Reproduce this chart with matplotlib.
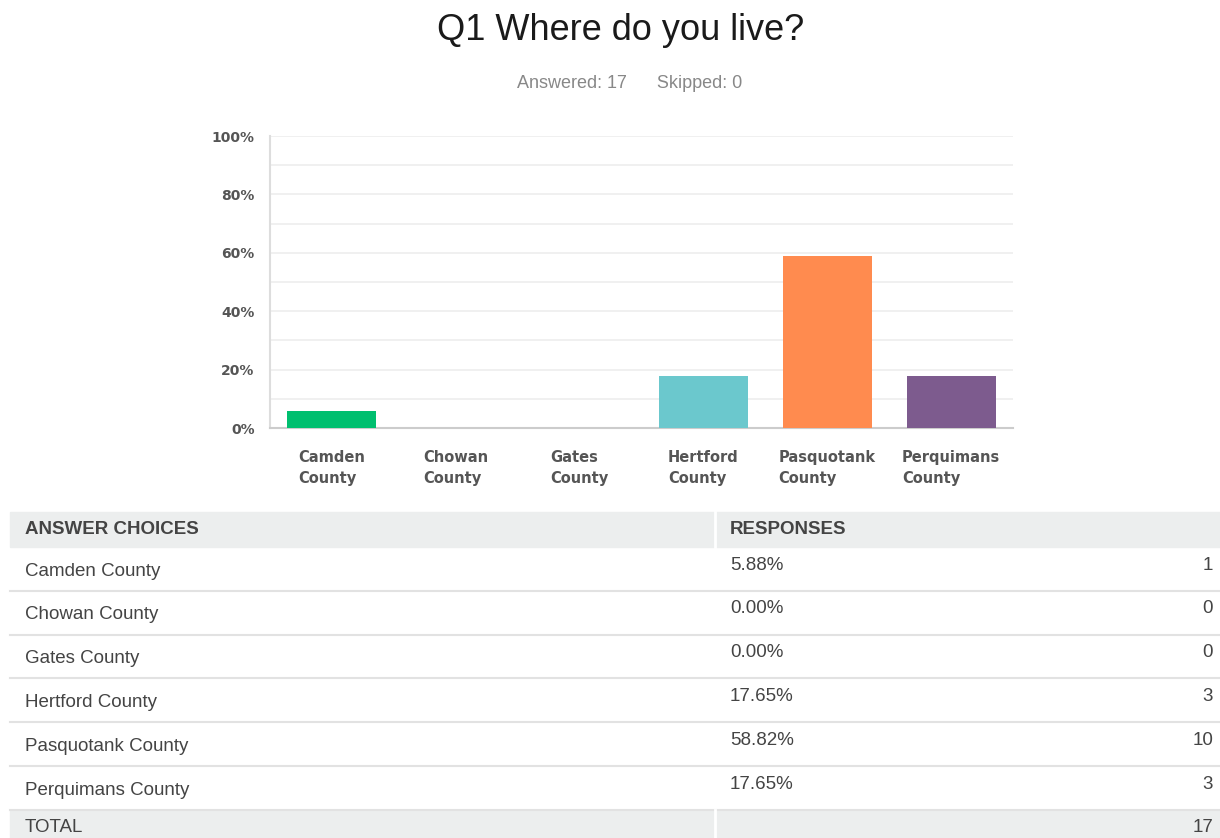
import matplotlib.pyplot as plt
from matplotlib.patches import Rectangle

counties = ["Camden County", "Chowan County", "Gates County",
            "Hertford County", "Pasquotank County", "Perquimans County"]
tick_labels = ["Camden\nCounty", "Chowan\nCounty", "Gates\nCounty",
               "Hertford\nCounty", "Pasquotank\nCounty", "Perquimans\nCounty"]
percents = [5.88, 0.00, 0.00, 17.65, 58.82, 17.65]
counts = [1, 0, 0, 3, 10, 3]
answered = 17
skipped = 0
colors = ["#00BF6F", "#507CB6", "#F9BE00", "#6BC8CD", "#FF8B4F", "#7D5B8E"]

W, H = 1220, 838
fig = plt.figure(figsize=(W / 100, H / 100), dpi=100)


def fx(px):
    return px / W


def fy(py):
    return 1 - py / H


fig.text(fx(621), fy(30), "Q1 Where do you live?", ha="center", va="center",
         fontsize=26, family="Liberation Sans", color="#1a1a1a")
fig.text(fx(630), fy(84), f"Answered: {answered}      Skipped: {skipped}",
         ha="center", va="center", fontsize=13, family="Liberation Sans",
         color="#888888")

# bar chart
ax = fig.add_axes([fx(270), fy(428), fx(1013) - fx(270), fy(136) - fy(428)])
x = range(len(counties))
ax.bar(x, percents, width=0.72, color=colors, zorder=3)
ax.set_xlim(-0.5, len(counties) - 0.5)
ax.set_ylim(0, 100)
ax.set_yticks(range(0, 101, 20))
ax.set_yticks(range(0, 101, 10), minor=True)
ax.set_yticklabels([f"{v}%" for v in range(0, 101, 20)])
ax.grid(axis="y", which="both", color="#EDEDED", linewidth=1.2, zorder=0)
ax.tick_params(axis="y", which="both", length=0, pad=11, labelsize=10,
               labelcolor="#555555")
for lbl in ax.get_yticklabels():
    lbl.set_fontweight("bold")
    lbl.set_family("DejaVu Sans")
ax.set_xticks(list(x))
ax.set_xticklabels(tick_labels, fontsize=10.5, fontweight="bold",
                   color="#555555", linespacing=1.45, multialignment="left",
                   va="top")
ax.tick_params(axis="x", length=0, pad=16)
for side in ["top", "right"]:
    ax.spines[side].set_visible(False)
ax.spines["left"].set_color("#DDDDDD")
ax.spines["bottom"].set_color("#CCCCCC")
ax.spines["left"].set_linewidth(1.5)
ax.spines["bottom"].set_linewidth(1.5)

# summary table
tfont = dict(family="Liberation Sans", color="#444444")
left, mid, right = 10, 715, 1220
head_top, head_bot = 512, 547
row_h = 43.8
fig.patches.append(Rectangle((fx(left), fy(head_bot)), fx(right) - fx(left),
                             fy(head_top) - fy(head_bot), color="#ECEEEE",
                             transform=fig.transFigure, zorder=0))
fig.add_artist(plt.Line2D([fx(mid), fx(mid)], [fy(head_bot), fy(head_top)],
                          color="white", linewidth=2, transform=fig.transFigure))
fig.text(fx(25), fy(529), "ANSWER CHOICES", fontsize=13.5, fontweight="bold",
         va="center", **tfont)
fig.text(fx(730), fy(529), "RESPONSES", fontsize=13.5, fontweight="bold",
         va="center", **tfont)

for i, (name, pct, n) in enumerate(zip(counties, percents, counts)):
    top = head_bot + i * row_h
    bot = top + row_h
    fig.text(fx(25), fy(top + 24), name, fontsize=13.5, va="center", **tfont)
    fig.text(fx(730), fy(top + 18), f"{pct:.2f}%", fontsize=13.5,
             va="center", **tfont)
    fig.text(fx(1213), fy(top + 18), str(n), fontsize=13.5, ha="right",
             va="center", **tfont)
    fig.add_artist(plt.Line2D([fx(left), fx(right)], [fy(bot), fy(bot)],
                              color="#E2E2E2", linewidth=1.5,
                              transform=fig.transFigure))

total_top = head_bot + len(counties) * row_h
fig.patches.append(Rectangle((fx(left), 0), fx(right) - fx(left),
                             fy(total_top), color="#ECEEEE",
                             transform=fig.transFigure, zorder=0))
fig.add_artist(plt.Line2D([fx(mid), fx(mid)], [0, fy(total_top)],
                          color="white", linewidth=2, transform=fig.transFigure))
fig.text(fx(25), fy(827), "TOTAL", fontsize=13.5, va="center", **tfont)
fig.text(fx(1213), fy(827), str(sum(counts)), fontsize=13.5, ha="right",
         va="center", **tfont)

fig.savefig("out.png", dpi=100)
